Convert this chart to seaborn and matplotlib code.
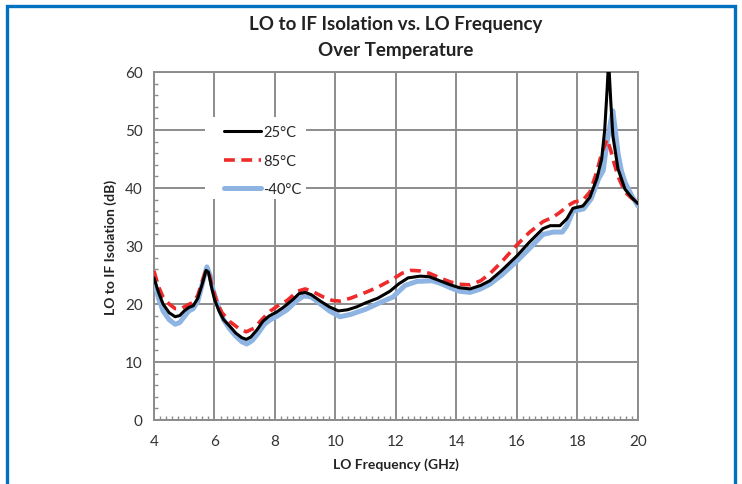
import numpy as np
import pandas as pd
import matplotlib
matplotlib.use("Agg")
import matplotlib.pyplot as plt
from matplotlib.patches import Rectangle
from matplotlib.ticker import MultipleLocator
import seaborn as sns

# LO frequency (GHz) / isolation (dB)
freq_25 = [4.0, 4.15, 4.3, 4.5, 4.7, 4.85, 5.0, 5.15, 5.3, 5.45, 5.6, 5.72, 5.8, 5.9, 6.0, 6.15,
           6.3, 6.5, 6.7, 6.9, 7.05, 7.2, 7.4, 7.6, 7.8, 8.05, 8.3, 8.6, 8.8, 9.0, 9.2, 9.5,
           9.8, 10.1, 10.4, 10.7, 11.0, 11.4, 11.8, 12.1, 12.4, 12.8, 13.1, 13.4, 13.8, 14.1,
           14.45, 14.8, 15.1, 15.5, 16.0, 16.4, 16.86, 17.1, 17.42, 17.65, 17.85, 18.18, 18.41,
           18.64, 18.8, 18.9, 18.98, 19.03, 19.1, 19.17, 19.34, 19.57, 19.8, 20.0]
iso_25 = [24.5, 22.0, 20.0, 18.5, 17.8, 18.0, 18.8, 19.4, 19.7, 21.0, 23.5, 25.8, 25.5, 23.0, 20.8, 18.8,
          17.3, 16.2, 15.0, 14.2, 13.9, 14.3, 15.5, 17.0, 17.9, 18.6, 19.5, 20.8, 21.8, 22.0, 21.6, 20.5,
          19.5, 18.8, 19.0, 19.5, 20.2, 21.0, 22.2, 23.5, 24.5, 24.8, 24.7, 24.1, 23.3, 22.8,
          22.6, 23.2, 24.0, 25.8, 28.3, 30.6, 33.0, 33.5, 33.5, 34.7, 36.5, 36.9, 38.4,
          41.6, 45.0, 50.0, 57.0, 62.0, 55.0, 49.0, 43.3, 39.8, 38.3, 37.3]

freq_85 = [4.0, 4.15, 4.3, 4.5, 4.7, 4.9, 5.1, 5.3, 5.45, 5.6, 5.72, 5.82, 5.95, 6.1, 6.25, 6.5,
           6.8, 7.05, 7.3, 7.6, 7.85, 8.1, 8.4, 8.75, 9.0, 9.3, 9.6, 9.9, 10.15, 10.5, 11.0,
           11.4, 11.9, 12.2, 12.5, 12.8, 13.1, 13.5, 13.8, 14.1, 14.45, 14.8, 15.1, 15.5, 16.0,
           16.4, 16.86, 17.2, 17.42, 17.7, 17.9, 18.18, 18.41, 18.64, 18.8, 18.98, 19.1, 19.2,
           19.34, 19.57, 19.8, 20.0]
iso_85 = [25.7, 23.0, 21.2, 20.0, 19.2, 19.2, 19.8, 20.3, 21.5, 24.0, 25.8, 25.3, 22.5, 20.0, 18.5, 17.0,
          15.8, 15.2, 15.8, 17.5, 18.8, 19.7, 20.6, 22.2, 22.6, 22.0, 21.2, 20.6, 20.5, 21.0, 22.0,
          22.9, 24.3, 25.3, 25.8, 25.7, 25.3, 24.4, 23.8, 23.4, 23.3, 24.0, 25.2, 27.3, 30.2,
          32.3, 34.2, 35.0, 35.8, 37.0, 37.6, 37.9, 39.3, 42.8, 46.0, 48.4, 46.5, 44.5,
          42.0, 39.3, 38.2, 37.6]

freq_m40 = [4.0, 4.15, 4.3, 4.5, 4.7, 4.85, 5.0, 5.15, 5.3, 5.45, 5.6, 5.75, 5.85, 5.95, 6.1, 6.3,
            6.5, 6.7, 6.9, 7.07, 7.25, 7.45, 7.65, 7.85, 8.07, 8.4, 8.7, 8.95, 9.2, 9.5, 9.8,
            10.15, 10.5, 11.0, 11.5, 11.9, 12.3, 12.7, 13.2, 13.5, 13.8, 14.1, 14.45, 14.8, 15.1,
            15.5, 16.0, 16.4, 16.86, 17.2, 17.5, 17.65, 17.85, 18.2, 18.45, 18.7, 18.85, 18.98,
            19.1, 19.17, 19.25, 19.34, 19.45, 19.57, 19.8, 20.0]
iso_m40 = [24.0, 21.0, 18.8, 17.3, 16.5, 16.8, 17.8, 18.8, 19.2, 20.5, 23.5, 26.4, 25.0, 22.5, 20.0, 17.3,
           15.7, 14.5, 13.5, 13.1, 13.7, 15.0, 16.5, 17.3, 17.9, 19.0, 20.5, 21.4, 21.2, 20.0, 18.8,
           17.8, 18.2, 19.1, 20.3, 21.2, 23.2, 23.9, 24.0, 23.5, 22.8, 22.2, 22.0, 22.6, 23.4,
           25.0, 27.4, 29.5, 32.0, 32.4, 32.4, 33.5, 36.0, 36.4, 38.1, 41.6, 43.0, 48.0,
           51.5, 53.3, 50.0, 46.0, 43.0, 41.0, 38.6, 36.9]

sns.set_style("white")
plt.rcParams['font.family'] = ['Lato', 'DejaVu Sans']

fig = plt.figure(figsize=(7.42, 4.85), dpi=100)
ax = fig.add_axes([0.2075, 0.132, 0.6523, 0.7175])

# draw order: -40 at the bottom, 25 on top
sns.lineplot(x=freq_m40, y=iso_m40, ax=ax, color='#8db4e2', lw=3.6, label='-40°C', zorder=3,
             sort=False)
sns.lineplot(x=freq_85, y=iso_85, ax=ax, color='#ee2a2a', lw=2.6, label='85°C', zorder=4,
             sort=False)
ax.lines[-1].set_dashes([3, 1.8])
sns.lineplot(x=freq_25, y=iso_25, ax=ax, color='black', lw=2.2, label='25°C', zorder=5, sort=False)

ax.set_xlim(4, 20)
ax.set_ylim(0, 60)
ax.xaxis.set_major_locator(MultipleLocator(2))
ax.yaxis.set_major_locator(MultipleLocator(10))
ax.xaxis.set_minor_locator(MultipleLocator(0.2))
ax.yaxis.set_minor_locator(MultipleLocator(2))
ax.grid(True, which='major', color='#8c8c8c', lw=1.4)
ax.tick_params(which='major', length=0, labelsize=11, labelcolor='#333333')
ax.tick_params(axis='x', which='major', pad=10)
ax.tick_params(axis='y', which='major', pad=8)
ax.tick_params(which='minor', direction='in', length=3, color='#8c8c8c', width=1)
ax.tick_params(axis='x', which='minor', bottom=True)
ax.tick_params(axis='y', which='minor', left=True)
for s in ax.spines.values():
    s.set_color('#8c8c8c')
    s.set_linewidth(1.4)

ax.set_xlabel('LO Frequency (GHz)', fontsize=10, fontweight='bold', color='#222222', labelpad=7)
ax.set_ylabel('LO to IF Isolation (dB)', fontsize=10, fontweight='bold', color='#222222', labelpad=6)
ax.set_title('LO to IF Isolation vs. LO Frequency\nOver Temperature', fontsize=13.5,
             fontweight='bold', color='#222222', pad=12, linespacing=1.65)

# white patch behind the legend that hides the gridlines
ax.add_patch(Rectangle((0.105, 0.635), 0.21, 0.236, transform=ax.transAxes,
                       facecolor='white', edgecolor='none', zorder=2.5))

h, l = ax.get_legend_handles_labels()
order = [2, 1, 0]
leg = ax.legend([h[i] for i in order], [l[i] for i in order], loc='upper left',
                bbox_to_anchor=(0.132, 0.866), borderaxespad=0, frameon=False,
                fontsize=10.5, handlelength=2.5, handletextpad=0.15, labelspacing=1.0,
                borderpad=0.45)

fig.patches.append(Rectangle((0.0101, -0.1), 0.9805, 1.0856, transform=fig.transFigure,
                             fill=False, edgecolor='#0070c0', lw=2.4))

fig.savefig('out.png', dpi=100)
